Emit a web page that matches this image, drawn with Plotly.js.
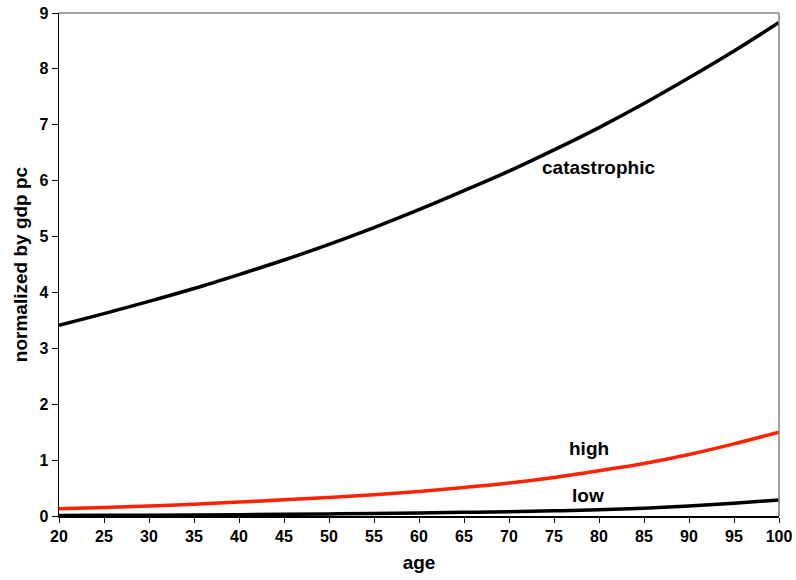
<!DOCTYPE html>
<html>
<head>
<meta charset="utf-8">
<script src="https://cdn.plot.ly/plotly-3.0.1.min.js"></script>
<style>html,body{margin:0;padding:0;background:#fff;}#chart{width:796px;height:580px;}</style>
</head>
<body>
<div id="chart"></div>
<script>
var ages = [20, 25, 30, 35, 40, 45, 50, 55, 60, 65, 70, 75, 80, 85, 90, 95, 100];
var catastrophic = [3.41, 3.62, 3.84, 4.07, 4.32, 4.58, 4.86, 5.16, 5.48, 5.82, 6.17, 6.55, 6.95, 7.38, 7.84, 8.32, 8.83];
var high = [0.13, 0.15, 0.18, 0.21, 0.25, 0.29, 0.33, 0.38, 0.44, 0.51, 0.59, 0.69, 0.81, 0.94, 1.10, 1.29, 1.50];
var low = [0.01, 0.012, 0.015, 0.019, 0.024, 0.03, 0.037, 0.045, 0.055, 0.066, 0.078, 0.092, 0.11, 0.14, 0.18, 0.23, 0.285];
var xTicks = [20, 25, 30, 35, 40, 45, 50, 55, 60, 65, 70, 75, 80, 85, 90, 95, 100];
var yTicks = [0, 1, 2, 3, 4, 5, 6, 7, 8, 9];
var seriesLabels = ["catastrophic", "high", "low"];
var labelX = [79.9, 78.9, 78.8];
var labelY = [6.23, 1.21, 0.37];

var traces = [
  {x: ages, y: low, mode: 'lines', line: {color: '#000000', width: 3.5, shape: 'spline'}, name: 'low'},
  {x: ages, y: high, mode: 'lines', line: {color: '#ff2200', width: 3.5, shape: 'spline'}, name: 'high'},
  {x: ages, y: catastrophic, mode: 'lines', line: {color: '#000000', width: 3.5, shape: 'spline'}, name: 'catastrophic'}
];

var fam = 'Liberation Sans, Arial, sans-serif';
var annotations = seriesLabels.map(function(t, i) {
  return {x: labelX[i], y: labelY[i], text: '<b>' + t + '</b>', showarrow: false,
          font: {family: fam, size: 19, color: '#000'}, xanchor: 'center', yanchor: 'middle'};
});

var layout = {
  width: 796, height: 580,
  margin: {l: 59, r: 17, t: 13, b: 64},
  paper_bgcolor: '#fff', plot_bgcolor: '#fff',
  showlegend: false,
  font: {family: fam, color: '#000', size: 16},
  xaxis: {
    range: [20, 100], tickvals: xTicks, ticktext: xTicks.map(function(v){return '<b>' + v + '</b>';}),
    showgrid: false, zeroline: false, showline: true, linecolor: '#000', linewidth: 1.5,
    ticks: 'outside', ticklen: 5, tickcolor: '#000', tickwidth: 1,
    tickfont: {family: fam, size: 16, color: '#000'},
    title: {text: '<b>age</b>', font: {family: fam, size: 19, color: '#000'}, standoff: 12}
  },
  yaxis: {
    range: [0, 9], tickvals: yTicks, ticktext: yTicks.map(function(v){return '<b>' + v + '</b>';}),
    showgrid: false, zeroline: false, showline: true, linecolor: '#000', linewidth: 1.5,
    ticks: 'outside', ticklen: 6, tickcolor: '#000', tickwidth: 1,
    tickfont: {family: fam, size: 16, color: '#000'},
    title: {text: '<b>normalized by gdp pc</b>', font: {family: fam, size: 19, color: '#000'}, standoff: 6}
  },
  shapes: [
    {type: 'line', xref: 'paper', yref: 'paper', x0: 0, x1: 1, y0: 1, y1: 1, line: {color: '#808080', width: 1.5}},
    {type: 'line', xref: 'paper', yref: 'paper', x0: 1, x1: 1, y0: 0, y1: 1, line: {color: '#808080', width: 1.5}}
  ],
  annotations: annotations
};

Plotly.newPlot('chart', traces, layout, {displayModeBar: false, staticPlot: true});
</script>
</body>
</html>
